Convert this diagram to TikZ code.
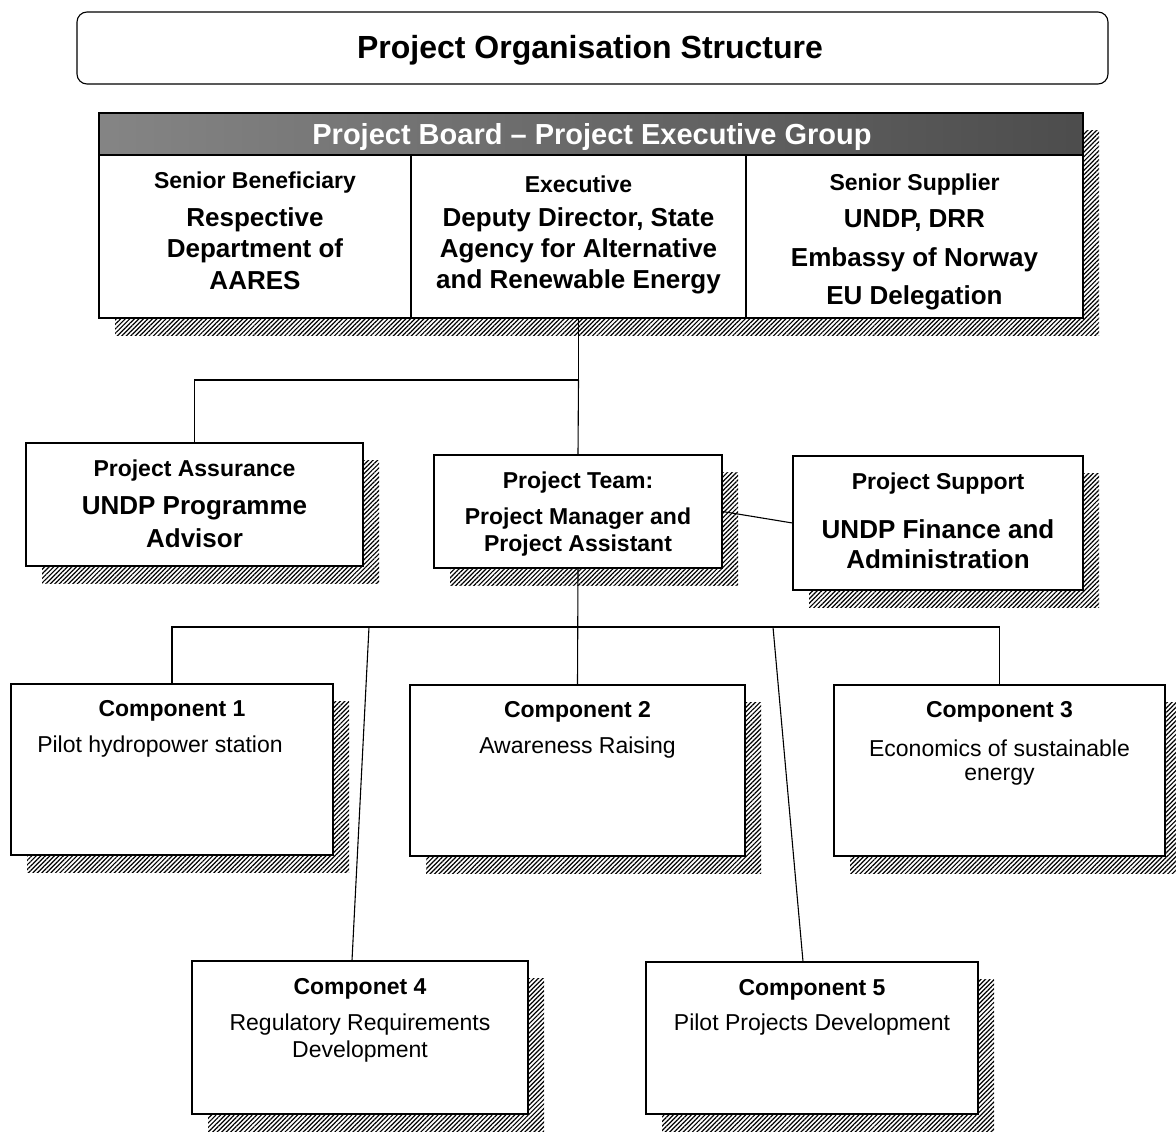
\documentclass[tikz,border=0pt]{standalone}
\usepackage{fontspec}
\setmainfont{Liberation Sans}
\usetikzlibrary{patterns.meta}
\newcommand{\fsz}[1]{\fontsize{#1}{#1}\selectfont}
\tikzset{
  hatchshadow/.style={preaction={draw=none, pattern={Lines[angle=45,distance=3.2pt,line width=1.2pt]}, transform canvas={shift={(16pt,-17pt)}}}},
  box/.style={draw, line width=1.1pt, fill=white, rectangle, inner sep=0pt, hatchshadow},
  plainbox/.style={draw, line width=1.1pt, fill=white, rectangle, inner sep=0pt},
  lbl/.style={font=\fsz{23}\bfseries, align=center, inner sep=0pt, yshift=-3pt},
  big/.style={font=\fsz{26}\bfseries, align=center, inner sep=0pt, yshift=-3pt},
  txt/.style={font=\fsz{23}, align=center, inner sep=0pt, yshift=-3pt},
  conn/.style={line width=1.1pt}
}
\begin{document}
\begin{tikzpicture}[x=1pt,y=-1pt]
\useasboundingbox (0,0) rectangle (1176,1132);
% title
\node[draw, line width=1.1pt, rounded corners=10pt, minimum width=1031pt, minimum height=72pt] (title) at (592.5,48) {};
\node[font=\fsz{32}\bfseries, inner sep=0pt, yshift=-3pt] (titletext) at (590,47) {Project Organisation Structure};
% board
\node[box, minimum width=984pt, minimum height=205pt] (board) at (591,215.5) {};
\node[draw, line width=1.1pt, left color=black!48, right color=black!70, minimum width=984pt, minimum height=42pt, inner sep=0pt] (hdr) at (591,134) {};
\node[font=\fsz{29}\bfseries, text=white, inner sep=0pt, yshift=-2pt] (hdrtext) at (592,135) {Project Board -- Project Executive Group};
\node[plainbox, minimum width=312pt, minimum height=163pt] (col1) at (255,236.5) {};
\node[plainbox, minimum width=335pt, minimum height=163pt] (exec) at (578.5,236.5) {};
\node[plainbox, minimum width=337pt, minimum height=163pt] (col3) at (914.5,236.5) {};
\node[lbl] (l1) at (255,180) {Senior Beneficiary};
\node[big] (t1a) at (255,217) {Respective};
\node[big] (t1b) at (255,248) {Department of};
\node[big] (t1c) at (255,278) {AARES};
\node[lbl] (l2) at (578.5,181) {Executive};
\node[big] (t2a) at (578.5,217) {Deputy Director, State};
\node[big] (t2b) at (578.5,248) {Agency for Alternative};
\node[big] (t2c) at (578.5,279) {and Renewable Energy};
\node[lbl] (l3) at (914.5,182) {Senior Supplier};
\node[big] (t3a) at (914.5,218) {UNDP, DRR};
\node[big] (t3b) at (914.5,257) {Embassy of Norway};
\node[big] (t3c) at (914.5,295) {EU Delegation};
% middle row
\node[box, minimum width=337pt, minimum height=123pt] (assure) at (194.5,504.5) {};
\node[lbl] (a1) at (194.5,468) {Project Assurance};
\node[big] (a2) at (194.5,505) {UNDP Programme};
\node[big] (a3) at (194.5,535) {Advisor};
\node[box, minimum width=288pt, minimum height=113pt] (team) at (578,511.5) {};
\node[lbl] (m1) at (578,480) {Project Team:};
\node[lbl] (m2) at (578,516) {Project Manager and};
\node[lbl] (m3) at (578,543) {Project Assistant};
\node[box, minimum width=290pt, minimum height=134pt] (support) at (938,523) {};
\node[lbl] (s1) at (938,481) {Project Support};
\node[big] (s2) at (938,526) {UNDP Finance and};
\node[big] (s3) at (938,556) {Administration};
% components
\node[box, minimum width=322pt, minimum height=171pt] (c1) at (172,769.5) {};
\node[lbl] (c1a) at (172,708) {Component 1};
\node[txt] (c1b) at (160,744) {Pilot hydropower station};
\node[box, minimum width=335pt, minimum height=171pt] (c2) at (577.5,770.5) {};
\node[lbl] (c2a) at (577.5,709) {Component 2};
\node[txt] (c2b) at (577.5,745) {Awareness Raising};
\node[box, minimum width=331pt, minimum height=171pt] (c3) at (999.5,770.5) {};
\node[lbl] (c3a) at (999.5,709) {Component 3};
\node[txt] (c3b) at (999.5,745) {Economics of sustainable};
\node[txt] (c3c) at (999.5,774) {energy};
\node[box, minimum width=336pt, minimum height=153pt] (c4) at (360,1037.5) {};
\node[lbl] (c4a) at (360,986) {Componet 4};
\node[txt] (c4b) at (360,1022) {Regulatory Requirements};
\node[txt] (c4c) at (360,1049) {Development};
\node[box, minimum width=332pt, minimum height=152pt] (c5) at (812,1038) {};
\node[lbl] (c5a) at (812,987) {Component 5};
\node[txt] (c5b) at (812,1022) {Pilot Projects Development};
% connectors
\coordinate (split) at (578.5,380);
\coordinate (bus) at (578,627);
\coordinate (b4) at (369,627);
\coordinate (b5) at (773,627);
\draw[conn] (exec.south) -- (split) -| (assure.north);
\draw[conn] (split) -- (team.north);
\draw[conn] (team.east) -- (support.west);
\draw[conn] (team.south) -- (c2.north);
\draw[conn] (c1.north) |- (bus) -| (c3.north);
\draw[conn] (b4) -- ([xshift=-8pt]c4.north);
\draw[conn] (b5) -- ([xshift=-9pt]c5.north);
\end{tikzpicture}
\end{document}
